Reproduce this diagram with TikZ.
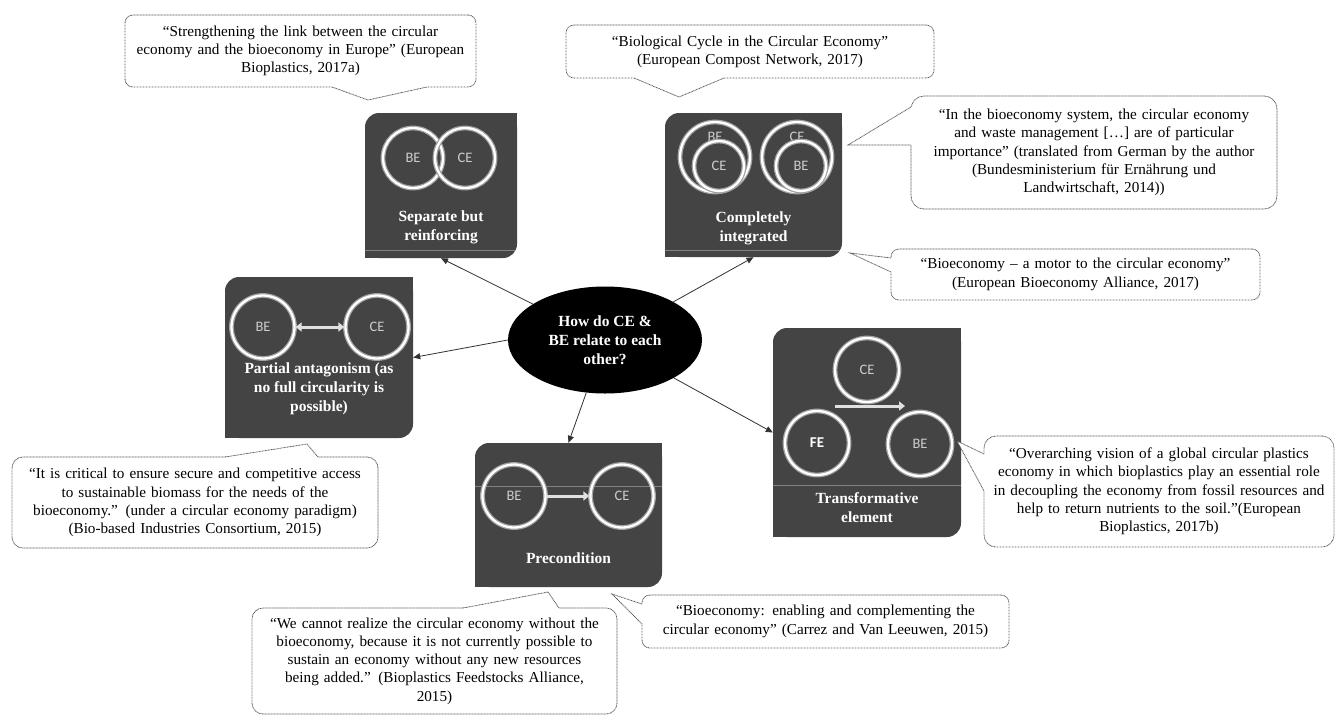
\documentclass[tikz,border=0pt]{standalone}
\usepackage{fontspec}
\setmainfont{Liberation Serif}
\newfontfamily\lblfont{Carlito}
\usetikzlibrary{arrows.meta,shapes.geometric,calc}
\definecolor{boxgray}{RGB}{68,68,68}
\definecolor{dotgray}{RGB}{90,90,90}
\definecolor{lblgray}{RGB}{205,205,205}
\definecolor{linegray}{RGB}{130,130,130}
\definecolor{conngray}{RGB}{50,50,50}
\tikzset{
 darkbox/.style={rectangle, fill=boxgray, rounded corners=14pt, inner sep=0pt},
 ttl/.style={text=white, font=\bfseries\fontsize{15.5}{19}\selectfont, align=center, inner sep=0pt},
 ring/.style={circle, draw=white, line width=2.3pt, minimum size=#1, inner sep=0pt, text=lblgray,
   font=\lblfont\fontsize{14.5}{15}\selectfont, preaction={draw=white!50!boxgray, line width=4.8pt}},
 ring/.default=62pt,
 lbl/.style={inner sep=0pt, text=lblgray, font=\lblfont\fontsize{14.5}{15}\selectfont},
 quote/.style={rectangle, draw=dotgray, line width=0.8pt, dash pattern=on 0.9pt off 0.6pt, fill=white,
   rounded corners=8pt, inner sep=0pt, align=center, font=\fontsize{15.2}{18.3}\selectfont},
 ptr/.style={draw=dotgray, line width=0.8pt, dash pattern=on 0.9pt off 0.6pt},
 conn/.style={draw=conngray, line width=0.8pt, -{Triangle[width=6pt,length=7pt]}},
 warrow/.style={draw=white!88!black, line width=3pt, -{Triangle[width=9pt,length=6pt]}},
 wdarrow/.style={draw=white!88!black, line width=3pt, {Triangle[width=9pt,length=6pt]}-{Triangle[width=9pt,length=6pt]}},
 sepline/.style={draw=linegray, line width=0.6pt},
}
\begin{document}
\begin{tikzpicture}[x=1pt,y=-1pt]
\useasboundingbox (0,0) rectangle (1337,718);
\fill[white] (0,0) rectangle (1337,718);

% ---------- dark boxes ----------
\node[darkbox, minimum width=152pt, minimum height=145pt] (A) at (441,185.5) {};
\node[darkbox, minimum width=177pt, minimum height=144pt] (B) at (753.5,185) {};
\node[darkbox, minimum width=188pt, minimum height=161pt] (E) at (319,357.5) {};
\node[darkbox, minimum width=187pt, minimum height=144pt] (F) at (568.5,515) {};
\node[darkbox, minimum width=188pt, minimum height=209pt] (G) at (867,432.5) {};
\foreach \b in {A,B,E,F,G}{
  \fill[boxgray] (\b.north east) rectangle ++(-16,16);
  \fill[boxgray] (\b.south west) rectangle ++(16,-16);
}
\draw[sepline] ([yshift=8pt]A.south west) -- ([yshift=8pt,xshift=-2pt]A.south east);
\draw[sepline] ([yshift=7pt]B.south west) -- ([yshift=7pt,xshift=-2pt]B.south east);
\draw[sepline] ([yshift=52pt]G.south west) -- ([yshift=52pt]G.south east);
\draw[sepline] ([yshift=101pt]F.south west) -- ([yshift=101pt]F.south east);

% box A
\node[ring=60pt] (A1) at (413,158) {BE};
\node[ring=60pt] (A2) at (465,158) {CE};
\node[ttl] (At) at (441,227.5) {Separate but\\reinforcing};
% box B
\node[ring=70pt] (B1) at (715,157) {};
\node[lbl] (B1l) at (715,137) {BE};
\node[ring=50pt] (B2) at (719,166) {CE};
\node[ring=70pt] (B3) at (797,157) {};
\node[lbl] (B3l) at (797,137) {CE};
\node[ring=50pt] (B4) at (801,166) {BE};
\node[ttl] (Bt) at (753.5,228) {Completely\\integrated};
% box E
\node[ring=63pt] (E1) at (263,327) {BE};
\node[ring=63pt] (E2) at (377,327) {CE};
\draw[wdarrow] (E1) -- (E2);
\node[ttl] (Et) at (319,388.5) {Partial antagonism (as\\no full circularity is\\possible)};
% box F
\node[ring=63pt] (F1) at (514,496) {BE};
\node[ring=63pt] (F2) at (622,496) {CE};
\draw[warrow] (F1) -- (F2);
\node[ttl] (Ft) at (568.5,558) {Precondition};
% box G
\node[ring=64pt] (G1) at (867,370) {CE};
\node[ring=64pt, text=white, font=\lblfont\bfseries\fontsize{15}{15}\selectfont] (G2) at (817,443) {FE};
\node[ring=64pt] (G3) at (920,444) {BE};
\coordinate (Ga) at (835,406);
\coordinate (Gb) at (905,406);
\draw[warrow] (Ga) -- (Gb);
\node[ttl] (Gt) at (867,508) {Transformative\\element};

% ---------- central ellipse ----------
\node[ellipse, fill=black, minimum width=194pt, minimum height=107pt, inner sep=0pt, text=white,
  font=\bfseries\fontsize{15.5}{18.8}\selectfont, align=center] (q) at (605,340)
  {How do CE \&\\BE relate to each\\other?};
\draw[conn] (q) -- (A.south);
\draw[conn] (q) -- (B.south);
\draw[conn] (q.west) -- (E.east);
\draw[conn] (q) -- (F.north);
\draw[conn] (q) -- (G.west);

% ---------- quotes ----------
% Q1
\node[quote, minimum width=351pt, minimum height=72pt, text width=346pt] (Q1) at (300.5,51)
 {“Strengthening the link between the circular\\economy and the bioeconomy in Europe” (European\\Bioplastics, 2017a)};
\coordinate (Q1a) at (332,87); \coordinate (Q1t) at (368,100); \coordinate (Q1b) at (427,87);
\fill[white] (Q1a) -- (Q1t) -- (Q1b) -- ($(Q1b)+(0,-1.5)$) -- ($(Q1a)+(0,-1.5)$) -- cycle;
\draw[ptr] (Q1a) -- (Q1t) -- (Q1b);
% Q2
\node[quote, minimum width=368pt, minimum height=53pt, text width=360pt] (Q2) at (750,51.5)
 {“Biological Cycle in the Circular Economy”\\(European Compost Network, 2017)};
\coordinate (Q2a) at (634,78); \coordinate (Q2t) at (679,97); \coordinate (Q2b) at (724,78);
\fill[white] (Q2a) -- (Q2t) -- (Q2b) -- ($(Q2b)+(0,-1.5)$) -- ($(Q2a)+(0,-1.5)$) -- cycle;
\draw[ptr] (Q2a) -- (Q2t) -- (Q2b);
% QC
\node[quote, rounded corners=13pt, minimum width=366pt, minimum height=113pt, text width=360pt] (QC) at (1094,152.5)
 {“In the bioeconomy system, the circular economy\\and waste management […] are of particular\\importance” (translated from German by the author\\(Bundesministerium für Ernährung und\\Landwirtschaft, 2014))};
\coordinate (QCa) at (911,107); \coordinate (QCt) at (848,145); \coordinate (QCb) at (911,145);
\fill[white] (QCa) -- (QCt) -- (QCb) -- ($(QCb)+(1.5,0)$) -- ($(QCa)+(1.5,0)$) -- cycle;
\draw[ptr] (QCa) -- (QCt) -- (QCb);
% QD
\node[quote, minimum width=369pt, minimum height=51pt, text width=362pt] (QD) at (1075.5,274.5)
 {“Bioeconomy – a motor to the circular economy”\\(European Bioeconomy Alliance, 2017)};
\coordinate (QDa) at (891,258); \coordinate (QDt) at (850,253); \coordinate (QDb) at (891,272);
\fill[white] (QDa) -- (QDt) -- (QDb) -- ($(QDb)+(1.5,0)$) -- ($(QDa)+(1.5,0)$) -- cycle;
\draw[ptr] (QDa) -- (QDt) -- (QDb);
% QH
\node[quote, rounded corners=12pt, minimum width=350pt, minimum height=111pt, text width=346pt] (QH) at (1159,491.5)
 {“Overarching vision of a global circular plastics\\economy in which bioplastics play an essential role\\in decoupling the economy from fossil resources and\\help to return nutrients to the soil.”(European\\Bioplastics, 2017b)};
\coordinate (QHa) at (984,454); \coordinate (QHt) at (957,441); \coordinate (QHb) at (984,491);
\fill[white] (QHa) -- (QHt) -- (QHb) -- ($(QHb)+(1.5,0)$) -- ($(QHa)+(1.5,0)$) -- cycle;
\draw[ptr] (QHa) -- (QHt) -- (QHb);
% QE
\node[quote, rounded corners=11pt, minimum width=366pt, minimum height=91pt, text width=360pt] (QE) at (195,502.5)
 {“It is critical to ensure secure and competitive access\\to sustainable biomass for the needs of the\\bioeconomy.” (under a circular economy paradigm)\\(Bio-based Industries Consortium, 2015)};
\coordinate (QEa) at (225,457); \coordinate (QEt) at (307,444); \coordinate (QEb) at (318,457);
\fill[white] (QEa) -- (QEt) -- (QEb) -- ($(QEb)+(0,1.5)$) -- ($(QEa)+(0,1.5)$) -- cycle;
\draw[ptr] (QEa) -- (QEt) -- (QEb);
% QF
\node[quote, rounded corners=11pt, minimum width=365pt, minimum height=106pt, text width=360pt] (QF) at (434.5,661)
 {“We cannot realize the circular economy without the\\bioeconomy, because it is not currently possible to\\sustain an economy without any new resources\\being added.” (Bioplastics Feedstocks Alliance,\\2015)};
\coordinate (QFa) at (463,608); \coordinate (QFt) at (548,592); \coordinate (QFb) at (559,608);
\fill[white] (QFa) -- (QFt) -- (QFb) -- ($(QFb)+(0,1.5)$) -- ($(QFa)+(0,1.5)$) -- cycle;
\draw[ptr] (QFa) -- (QFt) -- (QFb);
% QG
\node[quote, minimum width=367pt, minimum height=53pt, text width=360pt] (QG) at (825.5,621.5)
 {“Bioeconomy: enabling and complementing the\\circular economy” (Carrez and Van Leeuwen, 2015)};
\coordinate (QGa) at (642,604); \coordinate (QGt) at (612,594); \coordinate (QGb) at (642,624);
\fill[white] (QGa) -- (QGt) -- (QGb) -- ($(QGb)+(1.5,0)$) -- ($(QGa)+(1.5,0)$) -- cycle;
\draw[ptr] (QGa) -- (QGt) -- (QGb);
\end{tikzpicture}
\end{document}
